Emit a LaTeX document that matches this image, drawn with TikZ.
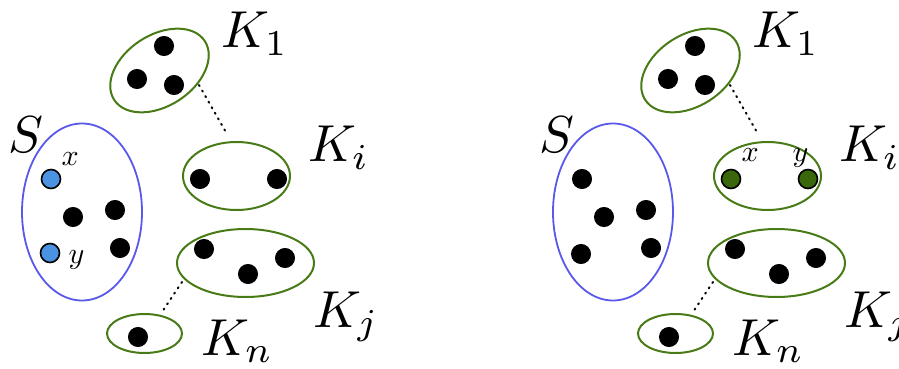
\documentclass[tikz,border=0pt]{standalone}
\usetikzlibrary{shapes.geometric}
\definecolor{kgreen}{RGB}{72,122,22}
\definecolor{dgreen}{RGB}{58,102,12}
\definecolor{sblue}{RGB}{88,88,235}
\definecolor{dblue}{RGB}{76,146,226}
\begin{document}
\begin{tikzpicture}[x=0.5pt,y=-0.5pt,
  kset/.style={draw=kgreen, ellipse, line width=1pt, inner sep=0pt},
  sset/.style={draw=sblue, ellipse, line width=0.9pt, inner sep=0pt},
  dot/.style={circle, fill=black, draw=black, line width=0.5pt, inner sep=0pt, minimum size=9.5pt},
  bdot/.style={dot, fill=dblue, line width=0.8pt},
  gdot/.style={dot, fill=dgreen, line width=0.8pt},
  biglab/.style={inner sep=0pt, anchor=base west, scale=2.6},
  smalllab/.style={inner sep=0pt, anchor=base west, scale=1.5},
  dotline/.style={line width=1pt, dash pattern=on 0.6pt off 2.6pt, line cap=round}]
\useasboundingbox (0,0) rectangle (899,369);
% ---------------- left panel ----------------
\node[sset, minimum width=60pt, minimum height=88.5pt] (lS) at (82,212) {};
\node[kset, minimum width=54pt, minimum height=35.5pt, rotate=33] (lK1) at (159.5,70.5) {};
\node[kset, minimum width=53.5pt, minimum height=34pt] (lKi) at (236.5,176) {};
\node[kset, minimum width=68.5pt, minimum height=34pt] (lKj) at (245.5,263) {};
\node[kset, minimum width=37.5pt, minimum height=19.5pt] (lKn) at (144.5,333.5) {};
% dots
\node[bdot] (lx) at (51,179) {};
\node[bdot] (ly) at (50,253) {};
\node[dot] (ls1) at (73,217) {};
\node[dot] (ls2) at (115,210) {};
\node[dot] (ls3) at (120,248) {};
\node[dot] (l1a) at (164,46) {};
\node[dot] (l1b) at (137,79) {};
\node[dot] (l1c) at (174,85) {};
\node[dot] (lia) at (200,179) {};
\node[dot] (lib) at (277,179) {};
\node[dot] (lja) at (204,249) {};
\node[dot] (ljb) at (248,274) {};
\node[dot] (ljc) at (285,258) {};
\node[dot] (lna) at (138,337) {};
% labels
\node[biglab] (lSt) at (7,152) {$S$};
\node[smalllab] (lxt) at (61,165) {$x$};
\node[smalllab] (lyt) at (68,263) {$y$};
\node[biglab] (lK1t) at (220,48) {$K_1$};
\node[biglab] (lKit) at (307,162) {$K_i$};
\node[biglab] (lKjt) at (312,327) {$K_j$};
\node[biglab] (lKnt) at (200,355) {$K_n$};
% dotted connectors
\coordinate (lda) at (199,85);
\coordinate (ldb) at (227,134);
\coordinate (ldc) at (182,282);
\coordinate (ldd) at (162,312);
\draw[dotline] (lda) -- (ldb);
\draw[dotline] (ldc) -- (ldd);
% ---------------- right panel ----------------
\node[sset, minimum width=60pt, minimum height=88.5pt] (rS) at (613,212) {};
\node[kset, minimum width=54pt, minimum height=35.5pt, rotate=33] (rK1) at (690.5,70.5) {};
\node[kset, minimum width=53.5pt, minimum height=34pt] (rKi) at (767.5,176) {};
\node[kset, minimum width=68.5pt, minimum height=34pt] (rKj) at (776.5,263) {};
\node[kset, minimum width=37.5pt, minimum height=19.5pt] (rKn) at (675.5,333.5) {};
% dots
\node[dot] (rs1) at (582,179) {};
\node[dot] (rs2) at (581,254) {};
\node[dot] (rs3) at (604,217) {};
\node[dot] (rs4) at (646,210) {};
\node[dot] (rs5) at (651,248) {};
\node[dot] (r1a) at (695,46) {};
\node[dot] (r1b) at (668,79) {};
\node[dot] (r1c) at (705,85) {};
\node[gdot] (rx) at (731,179) {};
\node[gdot] (ry) at (808,179) {};
\node[dot] (rja) at (735,249) {};
\node[dot] (rjb) at (779,274) {};
\node[dot] (rjc) at (816,258) {};
\node[dot] (rna) at (669,337) {};
% labels
\node[biglab] (rSt) at (538,152) {$S$};
\node[smalllab] (rxt) at (741,162) {$x$};
\node[smalllab] (ryt) at (792,162) {$y$};
\node[biglab] (rK1t) at (751,48) {$K_1$};
\node[biglab] (rKit) at (838,162) {$K_i$};
\node[biglab] (rKjt) at (843,327) {$K_j$};
\node[biglab] (rKnt) at (731,355) {$K_n$};
% dotted connectors
\coordinate (rda) at (730,85);
\coordinate (rdb) at (758,134);
\coordinate (rdc) at (713,282);
\coordinate (rdd) at (693,312);
\draw[dotline] (rda) -- (rdb);
\draw[dotline] (rdc) -- (rdd);
\end{tikzpicture}
\end{document}
